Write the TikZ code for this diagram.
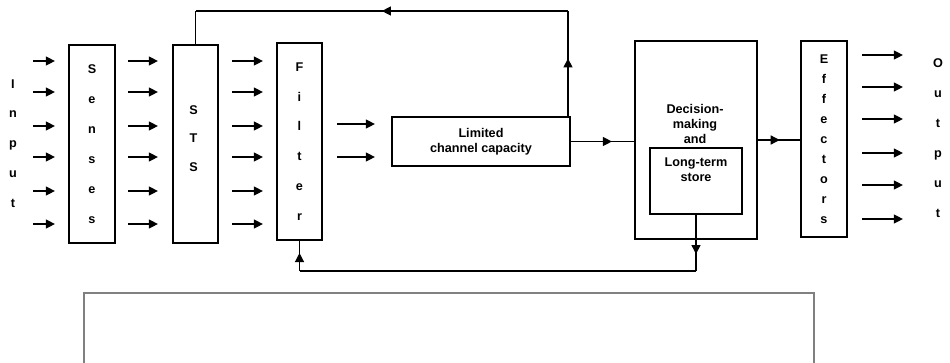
\documentclass[tikz,border=0pt]{standalone}
\usepackage{fontspec}
\setmainfont{Liberation Sans}
\usetikzlibrary{arrows.meta, decorations.markings}

\begin{document}
\begin{tikzpicture}[
    font=\fontsize{7.2}{8.5}\selectfont\bfseries,
    box/.style={draw, line width=1pt, rectangle, inner sep=0pt, align=center},
    letters/.style={align=center, inner sep=0pt, font=\fontsize{7.2}{#1}\selectfont\bfseries},
    arr/.style={-{Triangle[length=5.2pt,width=5pt]}, line width=1.1pt},
    midarrow/.style={line width=1.1pt, decoration={markings, mark=at position #1 with {\arrow{Triangle[length=5.2pt,width=5pt]}}}, postaction={decorate}}
]

    \useasboundingbox (0,0) rectangle (19,-7.24);

    % Input side
    \node[letters=17pt] (input) at (0.26,-2.87) {I\\n\\p\\u\\t};
    \node[box, letters=17pt, minimum width=0.92cm, minimum height=3.96cm] (senses) at (1.84,-2.88) {S\\e\\n\\s\\e\\s};
    \node[box, minimum width=0.90cm, minimum height=3.96cm] (sts) at (3.91,-2.88) {};
    \node[letters=16.2pt] (ststext) at (3.87,-2.77) {S\\T\\S};
    \node[box, letters=17pt, minimum width=0.90cm, minimum height=3.94cm] (filter) at (5.99,-2.83) {F\\i\\l\\t\\e\\r};

    \foreach \y in {1.22,1.84,2.52,3.14,3.82,4.48} {
        \draw[arr] (0.66,-\y) -- (1.10,-\y);
        \draw[arr] (2.56,-\y) -- (3.16,-\y);
        \draw[arr] (4.64,-\y) -- (5.26,-\y);
    }

    % Limited channel
    \node[box, minimum width=3.56cm, minimum height=0.98cm] (limited) at (9.62,-2.83) {Limited\\channel capacity};
    \draw[arr] (6.74,-2.48) -- (7.50,-2.48);
    \draw[arr] (6.74,-3.14) -- (7.50,-3.14);

    % Decision-making and long-term store
    \node[box, minimum width=2.44cm, minimum height=3.96cm] (decision) at (13.92,-2.80) {};
    \node[align=center, inner sep=0pt] (dectext) at (13.90,-2.48) {Decision-\\making\\and};
    \node[box, minimum width=1.84cm, minimum height=1.32cm] (store) at (13.92,-3.62) {};
    \node[align=center, inner sep=0pt] (storetext) at (13.92,-3.39) {Long-term\\store};
    \draw[midarrow=0.65] (limited.east) -- (limited.east -| decision.west);

    % Effectors and output
    \node[box, letters=11.4pt, minimum width=0.92cm, minimum height=3.92cm] (effectors) at (16.48,-2.78) {E\\f\\f\\e\\c\\t\\o\\r\\s};
    \draw[midarrow=0.52] (decision.east) -- (decision.east -| effectors.west);
    \node[letters=17pt] (output) at (18.76,-2.76) {O\\u\\t\\p\\u\\t};

    \foreach \y in {1.10,1.74,2.38,3.06,3.70,4.38}
        \draw[arr] (17.24,-\y) -- (18.06,-\y);

    % Feedback to STS
    \coordinate (topR) at (11.36,-0.22);
    \coordinate (topL) at (sts.north |- topR);
    \draw[midarrow=0.55] (limited.north -| topR) -- (topR);
    \draw[midarrow=0.5] (topR) -- (topL);
    \draw[line width=1.1pt] (topL) -- (sts.north);

    % Feedback to filter
    \coordinate (botR) at (store.south |- 0,-5.42);
    \coordinate (botL) at (filter.south |- botR);
    \draw[midarrow=0.7] (store.south) -- (botR);
    \draw[line width=1.1pt] (botR) -- (botL);
    \draw[midarrow=0.6] (botL) -- (filter.south);

    % Empty panel below
    \draw[gray, line width=0.7pt] (1.68,-7.4) |- (16.28,-5.86) -- (16.28,-7.4);

\end{tikzpicture}
\end{document}
